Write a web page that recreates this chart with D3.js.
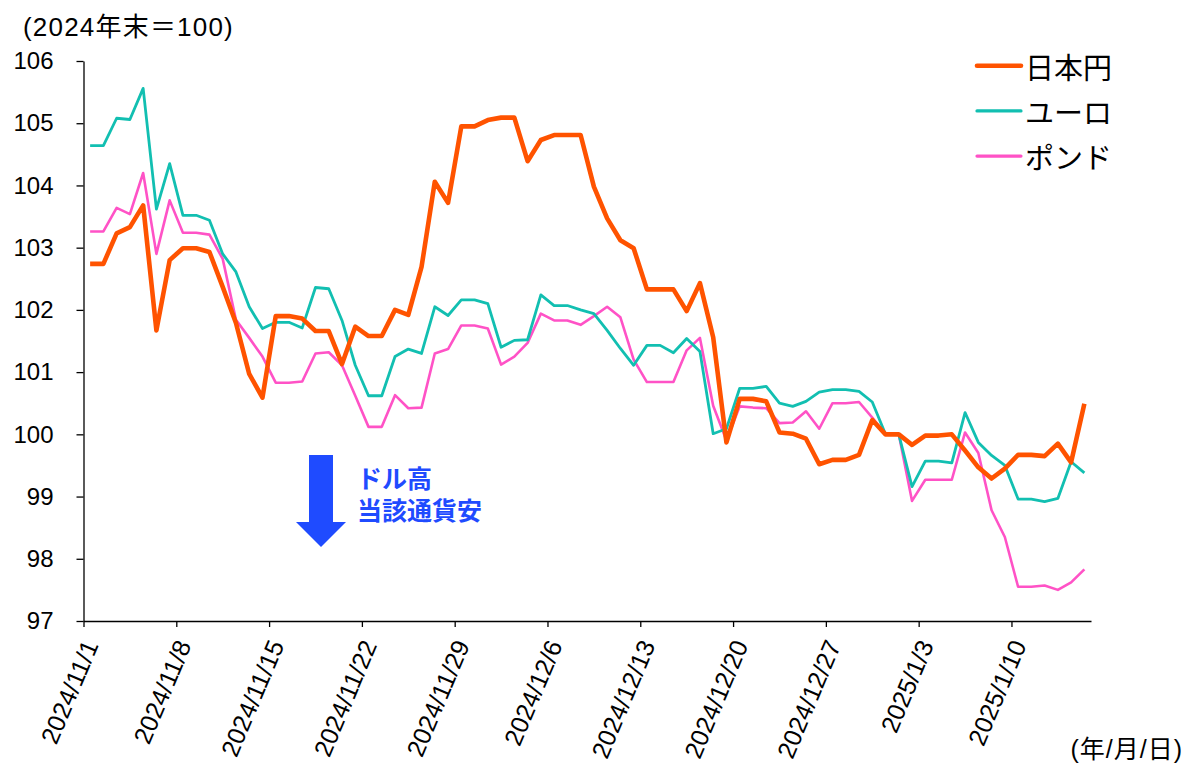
<!DOCTYPE html>
<html><head><meta charset="utf-8">
<script src="https://cdn.jsdelivr.net/npm/d3@7"></script>
<style>
html,body{margin:0;padding:0;background:#fff;}
svg{display:block;}
</style></head>
<body>
<svg id="chart" width="1187" height="767"></svg>
<script>
// ---- data (index 2024年末 = 100), daily from 2024/11/1 to 2025/1/15 ----
const startDate = new Date(2024, 10, 1);
const endDate = new Date(2025, 0, 16);
const seriesNames = ["日本円", "ユーロ", "ポンド"];
const jpy = [102.74,102.74,103.23,103.33,103.68,101.67,102.80,102.99,102.99,102.93,
  102.37,101.79,100.97,100.59,101.90,101.90,101.86,101.66,101.66,101.13,
  101.73,101.58,101.58,102.00,101.92,102.69,104.06,103.72,104.95,104.95,
  105.05,105.09,105.09,104.39,104.73,104.81,104.81,104.81,103.98,103.47,
  103.12,102.99,102.33,102.33,102.33,101.98,102.43,101.56,99.87,100.57,
  100.57,100.53,100.03,100.01,99.93,99.52,99.59,99.59,99.67,100.23,
  100.00,100.00,99.83,99.98,99.98,100.00,99.74,99.47,99.29,99.45,
  99.67,99.67,99.65,99.85,99.55,100.49];
const eur = [104.64,104.64,105.08,105.06,105.56,103.62,104.35,103.52,103.52,103.44,
  102.90,102.61,102.05,101.70,101.80,101.80,101.71,102.36,102.34,101.83,
  101.11,100.62,100.62,101.25,101.37,101.30,102.05,101.91,102.16,102.16,
  102.10,101.40,101.51,101.52,102.24,102.07,102.07,102.00,101.94,101.67,
  101.38,101.11,101.43,101.43,101.31,101.54,101.33,100.01,100.09,100.74,
  100.74,100.77,100.50,100.45,100.53,100.68,100.72,100.72,100.69,100.52,
  100.00,100.00,99.16,99.57,99.57,99.54,100.35,99.87,99.66,99.50,
  98.96,98.96,98.92,98.97,99.56,99.38];
const gbp = [103.26,103.26,103.64,103.54,104.20,102.90,103.76,103.24,103.24,103.21,
  102.82,101.84,101.55,101.25,100.83,100.83,100.85,101.30,101.32,101.11,
  100.62,100.12,100.12,100.63,100.42,100.43,101.30,101.37,101.75,101.75,
  101.70,101.12,101.25,101.47,101.94,101.83,101.83,101.76,101.90,102.05,
  101.88,101.20,100.84,100.84,100.84,101.35,101.55,100.46,99.90,100.45,
  100.43,100.42,100.18,100.19,100.37,100.09,100.50,100.50,100.52,100.27,
  100.00,100.00,98.93,99.27,99.27,99.27,100.03,99.70,98.78,98.35,
  97.55,97.55,97.57,97.50,97.62,97.83];
const yTicks = [97,98,99,100,101,102,103,104,105,106];
const colors = ["#FF5300", "#12BFB1", "#FF52C6"];
const widths = [4.6, 2.8, 2.6];

// ---- layout ----
const svg = d3.select("#chart");
const mLeft = 83.5, mRight = 1091, mTop = 61, mBottom = 621;
const dates = d3.timeDay.range(startDate, d3.timeDay.offset(startDate, jpy.length));
const x = d3.scaleTime().domain([startDate, endDate]).range([mLeft, mRight]);
const y = d3.scaleLinear().domain([97, 106]).range([mBottom, mTop]);
const mid = d => d3.timeHour.offset(d, 12);

const font = "'Liberation Sans', Arial, 'Noto Sans CJK JP', sans-serif";
const jfont = "'Liberation Sans', 'Noto Sans CJK JP', sans-serif";

// y axis
const yAxis = svg.append("g").attr("transform", `translate(${mLeft},0)`)
  .call(d3.axisLeft(y).tickValues(yTicks).tickSize(7).tickPadding(23).tickSizeOuter(0));
yAxis.select(".domain").attr("stroke", "#000").attr("stroke-width", 1.3);
yAxis.selectAll(".tick line").attr("stroke", "#000").attr("stroke-width", 1.3);
yAxis.selectAll("text").attr("font-family", font).attr("font-size", 24).attr("fill", "#000");

// x axis
const xTickDates = d3.timeDay.range(startDate, endDate, 1).filter((d,i) => i % 7 === 0);
const fmt = d3.timeFormat("%Y/%-m/%-d");
const xAxis = svg.append("g").attr("transform", `translate(0,${mBottom})`)
  .call(d3.axisBottom(x).tickValues(xTickDates).tickFormat(fmt).tickSize(6).tickSizeOuter(0));
xAxis.select(".domain").attr("stroke", "#000").attr("stroke-width", 1.3);
xAxis.selectAll(".tick line").attr("stroke", "#000").attr("stroke-width", 1.3);
xAxis.selectAll("text")
  .attr("font-family", font).attr("font-size", 25).attr("fill", "#000")
  .attr("text-anchor", "end").attr("dy", null).attr("y", 0)
  .attr("transform", "translate(15,24) rotate(-67)");

// lines
const seriesData = [jpy, eur, gbp];
const line = d3.line().x((d,i) => x(mid(dates[i]))).y(d => y(d));
[2,1,0].forEach(k => {
  svg.append("path").datum(seriesData[k])
    .attr("d", line).attr("fill", "none")
    .attr("stroke", colors[k]).attr("stroke-width", widths[k])
    .attr("stroke-linejoin", "round").attr("stroke-linecap", "butt");
});

// title & unit labels
svg.append("text").attr("x", 23).attr("y", 36)
  .attr("font-family", jfont).attr("font-size", 26).attr("letter-spacing", 1.2)
  .text("(2024年末＝100)");
svg.append("text").attr("x", 1183).attr("y", 758).attr("text-anchor", "end")
  .attr("font-family", jfont).attr("font-size", 25).attr("letter-spacing", 1)
  .text("(年/月/日)");

// legend
const lg = svg.append("g");
seriesNames.forEach((n, k) => {
  const ly = 65.7 + k * 45.2;
  lg.append("line").attr("x1", 977).attr("x2", 1021).attr("y1", ly).attr("y2", ly)
    .attr("stroke", colors[k]).attr("stroke-width", k === 0 ? 4.6 : 3.2).attr("stroke-linecap", "round");
  lg.append("text").attr("x", 1025).attr("y", ly).attr("dominant-baseline", "central")
    .attr("font-family", "'Noto Sans CJK JP', sans-serif").attr("font-size", 29).text(n);
});

// annotation arrow
const blue = "#1F4BFF";
const ax = 321, aTop = 455;
const arrowPts = [[ax-12,aTop],[ax+12,aTop],[ax+12,aTop+67],[ax+25,aTop+67],[ax,aTop+92],[ax-25,aTop+67],[ax-12,aTop+67]];
svg.append("path").attr("d", d3.line()(arrowPts) + "Z").attr("fill", blue);
const note = svg.append("text").attr("fill", blue)
  .attr("font-family", "'Noto Sans CJK JP', sans-serif").attr("font-weight", "bold").attr("font-size", 25);
note.append("tspan").attr("x", 357).attr("y", 488).text("ドル高");
note.append("tspan").attr("x", 357).attr("y", 520).text("当該通貨安");
</script>
</body></html>
